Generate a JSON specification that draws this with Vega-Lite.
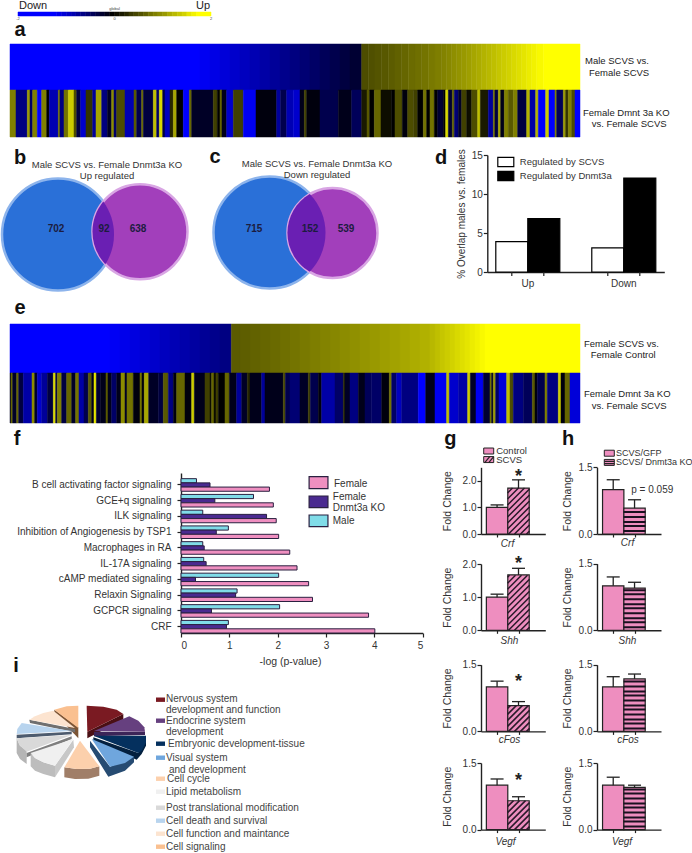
{
"$schema":"https://vega.github.io/schema/vega-lite/v6.json",
"background":"white","padding":{"left":-3,"top":0,"right":0,"bottom":0},"bounds":"flush","spacing":0,"columns":3,"align":"each",
"resolve":{"scale":{"fill":"independent","stroke":"independent","shape":"independent"}},
"config":{"view":{"stroke":null},"font":"Liberation Sans","concat":{"spacing":0},
"axis":{"grid":false,"domainColor":"#222","tickColor":"#222","labelColor":"#333","titleColor":"#333","labelFont":"Liberation Sans","titleFont":"Liberation Sans","titleFontWeight":"normal","labelFontSize":10,"titleFontSize":10.5,"domainWidth":1.4,"tickWidth":1.2,"tickSize":4,"labelPadding":1,"labelOverlap":false}},
"datasets":{
"blank":[],
"aTop":[{"s":0,"e":570,"v":-2},{"s":570,"e":600,"v":-1.9},{"s":600,"e":630,"v":-1.8},{"s":630,"e":660,"v":-1.7},{"s":660,"e":690,"v":-1.6},{"s":690,"e":720,"v":-1.5},{"s":720,"e":750,"v":-1.4},{"s":750,"e":780,"v":-1.3},{"s":780,"e":810,"v":-1.2},{"s":810,"e":840,"v":-1.1},{"s":840,"e":870,"v":-1},{"s":870,"e":900,"v":-0.9},{"s":900,"e":930,"v":-0.8},{"s":930,"e":960,"v":-0.7},{"s":960,"e":990,"v":-0.6},{"s":990,"e":1020,"v":-0.5},{"s":1020,"e":1055,"v":-0.4},{"s":1055,"e":1075,"v":0.6},{"s":1075,"e":1095,"v":0.63},{"s":1095,"e":1115,"v":0.66},{"s":1115,"e":1135,"v":0.69},{"s":1135,"e":1155,"v":0.72},{"s":1155,"e":1175,"v":0.76},{"s":1175,"e":1195,"v":0.8},{"s":1195,"e":1215,"v":0.84},{"s":1215,"e":1235,"v":0.87},{"s":1235,"e":1255,"v":0.91},{"s":1255,"e":1275,"v":0.95},{"s":1275,"e":1295,"v":0.99},{"s":1295,"e":1310,"v":1.03},{"s":1310,"e":1325,"v":1.07},{"s":1325,"e":1340,"v":1.12},{"s":1340,"e":1355,"v":1.16},{"s":1355,"e":1370,"v":1.2},{"s":1370,"e":1385,"v":1.25},{"s":1385,"e":1400,"v":1.3},{"s":1400,"e":1415,"v":1.35},{"s":1415,"e":1430,"v":1.4},{"s":1430,"e":1445,"v":1.45},{"s":1445,"e":1460,"v":1.5},{"s":1460,"e":1475,"v":1.55},{"s":1475,"e":1490,"v":1.6},{"s":1490,"e":1505,"v":1.65},{"s":1505,"e":1520,"v":1.7},{"s":1520,"e":1535,"v":1.75},{"s":1535,"e":1550,"v":1.8},{"s":1550,"e":1565,"v":1.85},{"s":1565,"e":1580,"v":1.9},{"s":1580,"e":1600,"v":1.95},{"s":1600,"e":1710,"v":2}],
"aBot":[{"s":0,"e":18,"v":1},{"s":18,"e":52,"v":-1},{"s":52,"e":60,"v":1.2},{"s":60,"e":68,"v":-0.8},{"s":68,"e":82,"v":1},{"s":82,"e":95,"v":-2},{"s":95,"e":110,"v":1},{"s":110,"e":118,"v":0},{"s":118,"e":145,"v":-1.4},{"s":145,"e":150,"v":0.9},{"s":150,"e":162,"v":-1},{"s":162,"e":175,"v":0.9},{"s":175,"e":192,"v":1.6},{"s":192,"e":200,"v":0.6},{"s":200,"e":212,"v":-0.5},{"s":212,"e":228,"v":-1.6},{"s":228,"e":248,"v":0.4},{"s":248,"e":258,"v":-1.2},{"s":258,"e":275,"v":1.3},{"s":275,"e":292,"v":-1},{"s":292,"e":305,"v":-0.3},{"s":305,"e":312,"v":1.1},{"s":312,"e":320,"v":-0.8},{"s":320,"e":345,"v":0.6},{"s":345,"e":372,"v":-1.4},{"s":372,"e":380,"v":0.7},{"s":380,"e":395,"v":-0.6},{"s":395,"e":400,"v":0.9},{"s":400,"e":430,"v":-0.5},{"s":430,"e":440,"v":1.5},{"s":440,"e":448,"v":-0.8},{"s":448,"e":458,"v":1.7},{"s":458,"e":465,"v":-0.5},{"s":465,"e":480,"v":-1.5},{"s":480,"e":490,"v":0.3},{"s":490,"e":500,"v":1.3},{"s":500,"e":520,"v":0},{"s":520,"e":538,"v":-2},{"s":538,"e":545,"v":0.8},{"s":545,"e":610,"v":-0.3},{"s":610,"e":622,"v":0.5},{"s":622,"e":630,"v":0},{"s":630,"e":636,"v":0.8},{"s":636,"e":650,"v":-0.2},{"s":650,"e":670,"v":-1.6},{"s":670,"e":700,"v":0.5},{"s":700,"e":738,"v":-1.9},{"s":738,"e":800,"v":-0.1},{"s":800,"e":812,"v":-1.2},{"s":812,"e":830,"v":-0.6},{"s":830,"e":850,"v":-1.4},{"s":850,"e":870,"v":-1.6},{"s":870,"e":883,"v":-0.2},{"s":883,"e":890,"v":0.5},{"s":890,"e":930,"v":-0.1},{"s":930,"e":985,"v":-0.6},{"s":985,"e":1025,"v":-0.2},{"s":1025,"e":1055,"v":-0.7},{"s":1055,"e":1071,"v":0.2},{"s":1071,"e":1079,"v":0.7},{"s":1079,"e":1093,"v":0},{"s":1093,"e":1113,"v":0.8},{"s":1113,"e":1145,"v":0.1},{"s":1145,"e":1155,"v":0},{"s":1155,"e":1177,"v":0.6},{"s":1177,"e":1193,"v":-0.1},{"s":1193,"e":1211,"v":0.6},{"s":1211,"e":1223,"v":0.5},{"s":1223,"e":1240,"v":0},{"s":1240,"e":1250,"v":0.9},{"s":1250,"e":1260,"v":0},{"s":1260,"e":1273,"v":0.9},{"s":1273,"e":1283,"v":0},{"s":1283,"e":1300,"v":-0.4},{"s":1300,"e":1307,"v":0},{"s":1307,"e":1315,"v":1.7},{"s":1315,"e":1327,"v":-0.4},{"s":1327,"e":1333,"v":0.8},{"s":1333,"e":1345,"v":-0.9},{"s":1345,"e":1355,"v":-0.3},{"s":1355,"e":1370,"v":0.5},{"s":1370,"e":1385,"v":0.1},{"s":1385,"e":1403,"v":0.6},{"s":1403,"e":1411,"v":1.5},{"s":1411,"e":1435,"v":0.2},{"s":1435,"e":1450,"v":-1.2},{"s":1450,"e":1455,"v":0.9},{"s":1455,"e":1465,"v":-0.5},{"s":1465,"e":1472,"v":1.3},{"s":1472,"e":1483,"v":-0.2},{"s":1483,"e":1495,"v":1},{"s":1495,"e":1510,"v":0.7},{"s":1510,"e":1523,"v":1},{"s":1523,"e":1550,"v":-0.5},{"s":1550,"e":1560,"v":1.4},{"s":1560,"e":1577,"v":-1.3},{"s":1577,"e":1585,"v":1.4},{"s":1585,"e":1607,"v":-2},{"s":1607,"e":1617,"v":1.6},{"s":1617,"e":1635,"v":-2},{"s":1635,"e":1640,"v":1},{"s":1640,"e":1660,"v":-0.7},{"s":1660,"e":1667,"v":1.2},{"s":1667,"e":1675,"v":0.4},{"s":1675,"e":1685,"v":1},{"s":1685,"e":1695,"v":0.6},{"s":1695,"e":1710,"v":-2}],
"eTop":[{"s":0,"e":300,"v":-2},{"s":300,"e":330,"v":-1.92},{"s":330,"e":360,"v":-1.84},{"s":360,"e":390,"v":-1.76},{"s":390,"e":420,"v":-1.68},{"s":420,"e":450,"v":-1.6},{"s":450,"e":480,"v":-1.5},{"s":480,"e":510,"v":-1.42},{"s":510,"e":540,"v":-1.34},{"s":540,"e":570,"v":-1.26},{"s":570,"e":600,"v":-1.18},{"s":600,"e":630,"v":-1.1},{"s":630,"e":664,"v":-1.02},{"s":664,"e":690,"v":0.71},{"s":690,"e":720,"v":0.74},{"s":720,"e":750,"v":0.77},{"s":750,"e":780,"v":0.8},{"s":780,"e":810,"v":0.83},{"s":810,"e":840,"v":0.87},{"s":840,"e":870,"v":0.91},{"s":870,"e":900,"v":0.95},{"s":900,"e":930,"v":0.99},{"s":930,"e":960,"v":1.03},{"s":960,"e":990,"v":1.06},{"s":990,"e":1020,"v":1.1},{"s":1020,"e":1050,"v":1.13},{"s":1050,"e":1080,"v":1.17},{"s":1080,"e":1110,"v":1.2},{"s":1110,"e":1140,"v":1.24},{"s":1140,"e":1170,"v":1.27},{"s":1170,"e":1200,"v":1.31},{"s":1200,"e":1230,"v":1.35},{"s":1230,"e":1260,"v":1.39},{"s":1260,"e":1275,"v":1.44},{"s":1275,"e":1290,"v":1.5},{"s":1290,"e":1305,"v":1.55},{"s":1305,"e":1320,"v":1.6},{"s":1320,"e":1335,"v":1.65},{"s":1335,"e":1350,"v":1.7},{"s":1350,"e":1365,"v":1.75},{"s":1365,"e":1380,"v":1.8},{"s":1380,"e":1395,"v":1.85},{"s":1395,"e":1410,"v":1.9},{"s":1410,"e":1425,"v":1.95},{"s":1425,"e":1710,"v":2}],
"eBot":[{"s":0,"e":3,"v":-0.3},{"s":3,"e":8,"v":0.8},{"s":8,"e":20,"v":-0.3},{"s":20,"e":26,"v":0.8},{"s":26,"e":40,"v":-0.5},{"s":40,"e":66,"v":-1.3},{"s":66,"e":74,"v":1.1},{"s":74,"e":82,"v":-0.3},{"s":82,"e":95,"v":-1.6},{"s":95,"e":112,"v":-1.2},{"s":112,"e":130,"v":-0.5},{"s":130,"e":137,"v":1.7},{"s":137,"e":142,"v":-0.5},{"s":142,"e":155,"v":1},{"s":155,"e":170,"v":-0.5},{"s":170,"e":185,"v":0.8},{"s":185,"e":197,"v":-0.3},{"s":197,"e":207,"v":0.9},{"s":207,"e":222,"v":-1.3},{"s":222,"e":235,"v":-0.6},{"s":235,"e":245,"v":0.7},{"s":245,"e":252,"v":-0.2},{"s":252,"e":259,"v":1.8},{"s":259,"e":272,"v":-0.4},{"s":272,"e":288,"v":-0.2},{"s":288,"e":294,"v":0.7},{"s":294,"e":305,"v":-0.2},{"s":305,"e":320,"v":-0.8},{"s":320,"e":333,"v":-0.2},{"s":333,"e":345,"v":1.1},{"s":345,"e":351,"v":-0.3},{"s":351,"e":370,"v":0.9},{"s":370,"e":390,"v":-0.1},{"s":390,"e":396,"v":0.9},{"s":396,"e":403,"v":-0.1},{"s":403,"e":416,"v":1.3},{"s":416,"e":445,"v":-0.3},{"s":445,"e":460,"v":-0.5},{"s":460,"e":475,"v":0.7},{"s":475,"e":490,"v":-1},{"s":490,"e":500,"v":-0.1},{"s":500,"e":525,"v":0.8},{"s":525,"e":545,"v":-0.1},{"s":545,"e":553,"v":1.6},{"s":553,"e":585,"v":-0.2},{"s":585,"e":600,"v":0.5},{"s":600,"e":605,"v":0.1},{"s":605,"e":612,"v":0.8},{"s":612,"e":618,"v":0.1},{"s":618,"e":625,"v":0.5},{"s":625,"e":645,"v":0},{"s":645,"e":658,"v":0.8},{"s":658,"e":680,"v":-0.2},{"s":680,"e":695,"v":-1.2},{"s":695,"e":712,"v":-0.3},{"s":712,"e":720,"v":0.3},{"s":720,"e":755,"v":-0.2},{"s":755,"e":765,"v":-1.2},{"s":765,"e":820,"v":-0.2},{"s":820,"e":826,"v":0.6},{"s":826,"e":840,"v":-0.6},{"s":840,"e":870,"v":-0.9},{"s":870,"e":895,"v":-0.3},{"s":895,"e":901,"v":0.5},{"s":901,"e":925,"v":-0.6},{"s":925,"e":935,"v":-0.1},{"s":935,"e":975,"v":-1.3},{"s":975,"e":1000,"v":-0.8},{"s":1000,"e":1005,"v":0.3},{"s":1005,"e":1020,"v":-0.3},{"s":1020,"e":1045,"v":-1},{"s":1045,"e":1065,"v":-0.2},{"s":1065,"e":1085,"v":-0.7},{"s":1085,"e":1115,"v":-0.8},{"s":1115,"e":1138,"v":-0.1},{"s":1138,"e":1145,"v":0.9},{"s":1145,"e":1160,"v":-0.8},{"s":1160,"e":1175,"v":-1.5},{"s":1175,"e":1225,"v":-1},{"s":1225,"e":1247,"v":-2},{"s":1247,"e":1275,"v":-0.2},{"s":1275,"e":1310,"v":-1.9},{"s":1310,"e":1318,"v":1.5},{"s":1318,"e":1345,"v":-1.6},{"s":1345,"e":1373,"v":-1.3},{"s":1373,"e":1381,"v":1.6},{"s":1381,"e":1398,"v":-0.3},{"s":1398,"e":1420,"v":-1.9},{"s":1420,"e":1440,"v":-0.4},{"s":1440,"e":1445,"v":0.9},{"s":1445,"e":1450,"v":-0.3},{"s":1450,"e":1457,"v":1.2},{"s":1457,"e":1467,"v":-0.8},{"s":1467,"e":1490,"v":-1.7},{"s":1490,"e":1500,"v":1.5},{"s":1500,"e":1510,"v":0.6},{"s":1510,"e":1540,"v":-1},{"s":1540,"e":1567,"v":-0.7},{"s":1567,"e":1575,"v":0.7},{"s":1575,"e":1582,"v":-0.1},{"s":1582,"e":1605,"v":-0.6},{"s":1605,"e":1612,"v":1},{"s":1612,"e":1645,"v":-1},{"s":1645,"e":1653,"v":1.6},{"s":1653,"e":1665,"v":-0.1},{"s":1665,"e":1680,"v":0.8},{"s":1680,"e":1710,"v":-1.7}]
},
"concat":[
{"width":480.7,"height":22,
 "layer":[
 {"data":{"values":[{"a":-2,"b":-1.2,"v":-2},{"a":-1.2,"b":-1.1,"v":-1.85},{"a":-1.1,"b":-1,"v":-1.7},{"a":-1,"b":-0.9,"v":-1.55},{"a":-0.9,"b":-0.8,"v":-1.4},{"a":-0.8,"b":-0.7,"v":-1.2},{"a":-0.7,"b":-0.6,"v":-1.05},{"a":-0.6,"b":-0.5,"v":-0.9},{"a":-0.5,"b":-0.4,"v":-0.7},{"a":-0.4,"b":-0.3,"v":-0.55},{"a":-0.3,"b":-0.2,"v":-0.35},{"a":-0.2,"b":-0.1,"v":-0.2},{"a":-0.1,"b":0,"v":0},{"a":0,"b":0.1,"v":0.1},{"a":0.1,"b":0.2,"v":0.2},{"a":0.2,"b":0.3,"v":0.3},{"a":0.3,"b":0.4,"v":0.45},{"a":0.4,"b":0.5,"v":0.55},{"a":0.5,"b":0.6,"v":0.65},{"a":0.6,"b":0.7,"v":0.75},{"a":0.7,"b":0.8,"v":0.9},{"a":0.8,"b":0.9,"v":1},{"a":0.9,"b":1,"v":1.1},{"a":1,"b":1.1,"v":1.2},{"a":1.1,"b":1.2,"v":1.35},{"a":1.2,"b":1.3,"v":1.45},{"a":1.3,"b":1.4,"v":1.55},{"a":1.4,"b":1.5,"v":1.65},{"a":1.5,"b":1.6,"v":1.8},{"a":1.6,"b":1.7,"v":1.9},{"a":1.7,"b":2,"v":2}]},
  "mark":{"type":"rect","strokeWidth":0.5},
  "encoding":{"x":{"field":"a","type":"quantitative","scale":{"domain":[-2,2],"range":[18,211]},"axis":null},"x2":{"field":"b"},
  "y":{"datum":12,"type":"quantitative","scale":{"domain":[0,22],"range":[0,22]},"axis":null},"y2":{"datum":16},
  "fill":{"field":"v","type":"quantitative","scale":{"domain":[-2,0,2],"range":["#0000ff","#000000","#ffff00"],"interpolate":"rgb"},"legend":null},
  "stroke":{"field":"v","type":"quantitative","scale":{"domain":[-2,0,2],"range":["#0000ff","#000000","#ffff00"],"interpolate":"rgb"},"legend":null}}},
 {"data":{"values":[{"x":-1.98,"y":6,"label":"Down"}]},"mark":{"type":"text","align":"left","fontSize":11,"color":"#222"},"encoding":{"x":{"field":"x","type":"quantitative","scale":{"domain":[-2,2],"range":[18,211]},"axis":null},"y":{"field":"y","type":"quantitative","scale":{"domain":[0,22],"range":[0,22]},"axis":null},"text":{"field":"label"}}},
 {"data":{"values":[{"x":1.98,"y":6,"label":"Up"}]},"mark":{"type":"text","align":"right","fontSize":11,"color":"#222"},"encoding":{"x":{"field":"x","type":"quantitative","scale":{"domain":[-2,2],"range":[18,211]},"axis":null},"y":{"field":"y","type":"quantitative","scale":{"domain":[0,22],"range":[0,22]},"axis":null},"text":{"field":"label"}}},
 {"data":{"values":[{"x":0,"y":9,"label":"global"},{"x":-2,"y":19,"label":"-2"},{"x":0,"y":19,"label":"0"},{"x":2,"y":19,"label":"2"}]},"mark":{"type":"text","align":"center","fontSize":4,"color":"#444"},"encoding":{"x":{"field":"x","type":"quantitative","scale":{"domain":[-2,2],"range":[18,211]},"axis":null},"y":{"field":"y","type":"quantitative","scale":{"domain":[0,22],"range":[0,22]},"axis":null},"text":{"field":"label"}}}
 ]},
{"width":0,"height":0,"data":{"name":"blank"},"mark":"rect","encoding":{}},
{"width":0,"height":0,"data":{"name":"blank"},"mark":"rect","encoding":{}},
{"width":480.7,"height":118,
 "encoding":{"x":{"field":"s","type":"quantitative","scale":{"domain":[-30,2046],"range":[0,692]},"axis":null},
  "fill":{"field":"v","type":"quantitative","scale":{"domain":[-2,0,2],"range":["#0000ff","#000000","#ffff00"],"interpolate":"rgb"},"legend":null},
  "stroke":{"field":"v","type":"quantitative","scale":{"domain":[-2,0,2],"range":["#0000ff","#000000","#ffff00"],"interpolate":"rgb"},"legend":null}},
 "layer":[
 {"data":{"name":"aTop"},"mark":{"type":"rect","strokeWidth":0.5},"encoding":{"x2":{"field":"e"},"y":{"datum":22,"type":"quantitative","scale":{"domain":[0,118],"range":[0,118]},"axis":null},"y2":{"datum":68}}},
 {"data":{"name":"aBot"},"mark":{"type":"rect","strokeWidth":0.5},"encoding":{"x2":{"field":"e"},"y":{"datum":68,"type":"quantitative","scale":{"domain":[0,118],"range":[0,118]},"axis":null},"y2":{"datum":115}}},
 {"data":{"values":[{"x":1725,"y":39,"label":"Male  SCVS vs."},{"x":1737,"y":51,"label":"Female SCVS"},{"x":1719,"y":91,"label":"Female Dmnt 3a KO"},{"x":1745,"y":102,"label":"vs. Female SCVS"}]},"mark":{"type":"text","align":"left","fontSize":9.5,"color":"#222"},"encoding":{"x":{"field":"x","type":"quantitative","scale":{"domain":[-30,2046],"range":[0,692]},"axis":null},"y":{"field":"y","type":"quantitative","scale":{"domain":[0,118],"range":[0,118]},"axis":null},"text":{"field":"label"},"fill":{"value":"#222"},"stroke":{"value":null}}},
 {"data":{"values":[{"x":30,"y":8,"label":"a"}]},"mark":{"type":"text","align":"center","fontSize":20,"fontWeight":"bold"},"encoding":{"x":{"field":"x","type":"quantitative","scale":{"domain":[-30,2046],"range":[0,692]},"axis":null},"y":{"field":"y","type":"quantitative","scale":{"domain":[0,118],"range":[0,118]},"axis":null},"text":{"field":"label"},"fill":{"value":"#111"},"stroke":{"value":null}}}
 ]},
{"width":0,"height":0,"data":{"name":"blank"},"mark":"rect","encoding":{}},
{"width":0,"height":0,"data":{"name":"blank"},"mark":"rect","encoding":{}},
 {"width":480.7,"height":160,
  "layer":[
  {"data":{"values":[{"set":"b male","x":58,"y":94.5},{"set":"c male","x":269.5,"y":92.5}]},"mark":{"type":"point","shape":"circle","filled":true,"size":12544,"fill":"#2a70d8","stroke":"#8db4ec","strokeWidth":2.5,"opacity":1},"encoding":{"x":{"field":"x","type":"quantitative","scale":{"domain":[0,487],"range":[0,487]},"axis":null},"y":{"field":"y","type":"quantitative","scale":{"domain":[0,160],"range":[0,160]},"axis":null}}},
  {"data":{"values":[{"set":"b female","x":140,"y":91.7}]},"mark":{"type":"point","shape":"circle","filled":true,"size":9025,"fill":"#a23fbb","stroke":"#d9a6e4","strokeWidth":2.5,"opacity":1},"encoding":{"x":{"field":"x","type":"quantitative","scale":{"domain":[0,487],"range":[0,487]},"axis":null},"y":{"field":"y","type":"quantitative","scale":{"domain":[0,160],"range":[0,160]},"axis":null}}},
  {"data":{"values":[{"set":"c female","x":332.5,"y":93}]},"mark":{"type":"point","shape":"circle","filled":true,"size":8100,"fill":"#a23fbb","stroke":"#d9a6e4","strokeWidth":2.5,"opacity":1},"encoding":{"x":{"field":"x","type":"quantitative","scale":{"domain":[0,487],"range":[0,487]},"axis":null},"y":{"field":"y","type":"quantitative","scale":{"domain":[0,160],"range":[0,160]},"axis":null}}},
  {"data":{"values":[{"set":"b overlap","x":110,"y":93}]},"mark":{"type":"point","shape":"M-6.7 -31.5A56 56 0 0 1 -4.6 31.3A47.5 47.5 0 0 1 -6.7 -31.5Z","filled":true,"size":4,"fill":"#6a1fb3","strokeWidth":0,"opacity":1},"encoding":{"x":{"field":"x","type":"quantitative","scale":{"domain":[0,487],"range":[0,487]},"axis":null},"y":{"field":"y","type":"quantitative","scale":{"domain":[0,160],"range":[0,160]},"axis":null}}},
  {"data":{"values":[{"set":"c overlap","x":320,"y":93}]},"mark":{"type":"point","shape":"M-10.2 -39.1A56 56 0 0 1 -10.2 38.7A45 45 0 0 1 -10.2 -39.1Z","filled":true,"size":4,"fill":"#6a1fb3","strokeWidth":0,"opacity":1},"encoding":{"x":{"field":"x","type":"quantitative","scale":{"domain":[0,487],"range":[0,487]},"axis":null},"y":{"field":"y","type":"quantitative","scale":{"domain":[0,160],"range":[0,160]},"axis":null}}},
  {"data":{"values":[{"x":56,"y":89,"label":"702"},{"x":104,"y":89,"label":"92"},{"x":138,"y":89,"label":"638"},{"x":254,"y":89,"label":"715"},{"x":310,"y":89,"label":"152"},{"x":346,"y":89,"label":"539"}]},"mark":{"type":"text","fontSize":10,"fontWeight":"bold","color":"#1c1c40"},"encoding":{"x":{"field":"x","type":"quantitative","scale":{"domain":[0,487],"range":[0,487]},"axis":null},"y":{"field":"y","type":"quantitative","scale":{"domain":[0,160],"range":[0,160]},"axis":null},"text":{"field":"label"}}},
  {"data":{"values":[{"x":107,"y":25,"label":"Male SCVS vs. Female Dnmt3a KO"},{"x":107,"y":36,"label":"Up regulated"},{"x":317,"y":24,"label":"Male SCVS vs. Female Dnmt3a KO"},{"x":317,"y":35,"label":"Down regulated"}]},"mark":{"type":"text","fontSize":9.5,"color":"#333"},"encoding":{"x":{"field":"x","type":"quantitative","scale":{"domain":[0,487],"range":[0,487]},"axis":null},"y":{"field":"y","type":"quantitative","scale":{"domain":[0,160],"range":[0,160]},"axis":null},"text":{"field":"label"}}},
  {"data":{"values":[{"x":20,"y":18,"label":"b"},{"x":215,"y":17,"label":"c"},{"x":441,"y":18,"label":"d"}]},"mark":{"type":"text","fontSize":20,"fontWeight":"bold","color":"#111"},"encoding":{"x":{"field":"x","type":"quantitative","scale":{"domain":[0,487],"range":[0,487]},"axis":null},"y":{"field":"y","type":"quantitative","scale":{"domain":[0,160],"range":[0,160]},"axis":null},"text":{"field":"label"}}}
  ]},
 {"width":116,"height":132,
  "data":{"values":[{"dir":"Up","by":"Regulated by SCVS","pct":3.9},{"dir":"Up","by":"Regulated by Dnmt3a","pct":6.85},{"dir":"Down","by":"Regulated by SCVS","pct":3.1},{"dir":"Down","by":"Regulated by Dnmt3a","pct":12.05}]},
  "encoding":{"x":{"field":"dir","type":"nominal","scale":{"domain":["Up","Down"],"range":[6.3,183.3],"paddingInner":0.333,"paddingOuter":0.0885},"axis":{"title":null,"labelAngle":0,"ticks":false,"labelPadding":6,"labelFontSize":10}},
   "xOffset":{"field":"by","type":"nominal","scale":{"domain":["Regulated by SCVS","Regulated by Dnmt3a"],"paddingInner":0}}},
  "layer":[
  {"mark":{"type":"bar","stroke":"#000","strokeWidth":1.2},"encoding":{"y":{"field":"pct","type":"quantitative","scale":{"domain":[0,15],"range":[132,15],"nice":false},"axis":{"values":[0,5,10,15],"title":"% Overlap males vs. females","titleX":-21,"titleFontSize":10,"offset":-6.3}},
    "fill":{"field":"by","type":"nominal","scale":{"domain":["Regulated by SCVS","Regulated by Dnmt3a"],"range":["#ffffff","#000000"]},"legend":{"title":null,"orient":"none","legendX":15.8,"legendY":15,"symbolType":"M-1 -0.58H1V0.58H-1Z","symbolSize":256,"symbolStrokeColor":"#000","symbolStrokeWidth":1.2,"labelFontSize":9.5,"labelColor":"#333","clipHeight":14,"rowPadding":0,"labelOffset":5}}}},
  {"mark":{"type":"point","shape":"M0 0L0 4","size":4,"stroke":"#222","strokeWidth":1.2,"opacity":1},"encoding":{"y":{"datum":0,"type":"quantitative","scale":{"domain":[0,15],"range":[132,15],"nice":false}}}}
  ]},
{"width":0,"height":0,"data":{"name":"blank"},"mark":"rect","encoding":{}},
{"width":480.7,"height":130,
 "encoding":{"x":{"field":"s","type":"quantitative","scale":{"domain":[-30,2046],"range":[0,692]},"axis":null},
  "fill":{"field":"v","type":"quantitative","scale":{"domain":[-2,0,2],"range":["#0000ff","#000000","#ffff00"],"interpolate":"rgb"},"legend":null},
  "stroke":{"field":"v","type":"quantitative","scale":{"domain":[-2,0,2],"range":["#0000ff","#000000","#ffff00"],"interpolate":"rgb"},"legend":null}},
 "layer":[
 {"data":{"name":"eTop"},"mark":{"type":"rect","strokeWidth":0.5},"encoding":{"x2":{"field":"e"},"y":{"datum":24,"type":"quantitative","scale":{"domain":[0,130],"range":[0,130]},"axis":null},"y2":{"datum":73}}},
 {"data":{"name":"eBot"},"mark":{"type":"rect","strokeWidth":0.5},"encoding":{"x2":{"field":"e"},"y":{"datum":73,"type":"quantitative","scale":{"domain":[0,130],"range":[0,130]},"axis":null},"y2":{"datum":123}}},
 {"data":{"values":[{"x":1722,"y":44,"label":"Female SCVS vs."},{"x":1742,"y":55,"label":"Female Control"},{"x":1722,"y":94,"label":"Female Dmnt 3a KO"},{"x":1745,"y":106,"label":"vs. Female SCVS"}]},"mark":{"type":"text","align":"left","fontSize":9.5},"encoding":{"x":{"field":"x","type":"quantitative","scale":{"domain":[-30,2046],"range":[0,692]},"axis":null},"y":{"field":"y","type":"quantitative","scale":{"domain":[0,130],"range":[0,130]},"axis":null},"text":{"field":"label"},"fill":{"value":"#222"},"stroke":{"value":null}}},
 {"data":{"values":[{"x":30,"y":8,"label":"e"}]},"mark":{"type":"text","align":"center","fontSize":20,"fontWeight":"bold"},"encoding":{"x":{"field":"x","type":"quantitative","scale":{"domain":[-30,2046],"range":[0,692]},"axis":null},"y":{"field":"y","type":"quantitative","scale":{"domain":[0,130],"range":[0,130]},"axis":null},"text":{"field":"label"},"fill":{"value":"#111"},"stroke":{"value":null}}}
 ]},
{"width":0,"height":0,"data":{"name":"blank"},"mark":"rect","encoding":{}},
{"width":0,"height":0,"data":{"name":"blank"},"mark":"rect","encoding":{}},
  {"width":480.7,"height":104,
   "resolve":{"scale":{"y":"independent"}},
   "layer":[
   {"data":{"values":[
    {"p":"B cell activating factor signaling","s":"Male","v":0.32},{"p":"B cell activating factor signaling","s":"Female Dnmt3a KO","v":0.6},{"p":"B cell activating factor signaling","s":"Female","v":1.83},
    {"p":"GCE+q signaling","s":"Male","v":1.5},{"p":"GCE+q signaling","s":"Female Dnmt3a KO","v":0.7},{"p":"GCE+q signaling","s":"Female","v":1.91},
    {"p":"ILK signaling","s":"Male","v":0.45},{"p":"ILK signaling","s":"Female Dnmt3a KO","v":1.77},{"p":"ILK signaling","s":"Female","v":1.97},
    {"p":"Inhibition of Angiogenesis by TSP1","s":"Male","v":0.98},{"p":"Inhibition of Angiogenesis by TSP1","s":"Female Dnmt3a KO","v":0.73},{"p":"Inhibition of Angiogenesis by TSP1","s":"Female","v":2.02},
    {"p":"Macrophages in RA","s":"Male","v":0.45},{"p":"Macrophages in RA","s":"Female Dnmt3a KO","v":0.48},{"p":"Macrophages in RA","s":"Female","v":2.25},
    {"p":"IL-17A signaling","s":"Male","v":0.47},{"p":"IL-17A signaling","s":"Female Dnmt3a KO","v":0.52},{"p":"IL-17A signaling","s":"Female","v":2.4},
    {"p":"cAMP  mediated signaling","s":"Male","v":2.02},{"p":"cAMP  mediated signaling","s":"Female Dnmt3a KO","v":0.3},{"p":"cAMP  mediated signaling","s":"Female","v":2.64},
    {"p":"Relaxin Signaling","s":"Male","v":1.16},{"p":"Relaxin Signaling","s":"Female Dnmt3a KO","v":1.13},{"p":"Relaxin Signaling","s":"Female","v":2.72},
    {"p":"GCPCR signaling","s":"Male","v":2.04},{"p":"GCPCR signaling","s":"Female Dnmt3a KO","v":0.63},{"p":"GCPCR signaling","s":"Female","v":3.88},
    {"p":"CRF","s":"Male","v":0.98},{"p":"CRF","s":"Female Dnmt3a KO","v":0.94},{"p":"CRF","s":"Female","v":4.01}]},
    "mark":{"type":"bar","stroke":"#2a2040","strokeWidth":1},
    "encoding":{"x":{"field":"v","type":"quantitative","scale":{"domain":[0,5],"range":[181,422.7],"nice":false},"axis":{"values":[0,1,2,3,4,5],"format":"d","title":"-log (p-value)","titleX":290,"titleY":23,"labelPadding":3,"offset":99}},
     "y":{"field":"p","type":"nominal","scale":{"domain":["B cell activating factor signaling","GCE+q signaling","ILK signaling","Inhibition of Angiogenesis by TSP1","Macrophages in RA","IL-17A signaling","cAMP  mediated signaling","Relaxin Signaling","GCPCR signaling","CRF"],"range":[43,203],"paddingInner":0.2,"paddingOuter":0.18,"align":1},"axis":{"title":null,"offset":-181,"labelPadding":6,"labelFontSize":10,"labelLimit":200}},
     "yOffset":{"field":"s","type":"nominal","scale":{"domain":["Male","Female Dnmt3a KO","Female"],"paddingInner":0}},
     "fill":{"field":"s","type":"nominal","scale":{"domain":["Female","Female Dnmt3a KO","Male"],"range":["#ef8fc0","#4a2a90","#80dce8"]},"legend":null}}},
   {"data":{"values":[{"a":2.65,"b":3.04,"t":46.7,"u":58.7,"s":"Female"},{"a":2.65,"b":3.04,"t":66,"u":77.7,"s":"Female Dnmt3a KO"},{"a":2.65,"b":3.04,"t":85,"u":96.7,"s":"Male"}]},
    "mark":{"type":"rect","stroke":"#2a2040","strokeWidth":1.2},
    "encoding":{"x":{"field":"a","type":"quantitative","scale":{"domain":[0,5],"range":[181,422.7],"nice":false}},"x2":{"field":"b"},
     "y":{"field":"t","type":"quantitative","scale":{"domain":[0,203],"range":[0,203]},"axis":null},"y2":{"field":"u"},
     "fill":{"field":"s","type":"nominal","scale":{"domain":["Female","Female Dnmt3a KO","Male"],"range":["#ef8fc0","#4a2a90","#80dce8"]},"legend":null}}},
   {"data":{"values":[{"x":3.165,"y":53.7,"label":"Female"},{"x":3.14,"y":66.7,"label":"Female"},{"x":3.14,"y":78,"label":"Dnmt3a KO"},{"x":3.14,"y":91,"label":"Male"}]},
    "mark":{"type":"text","align":"left","fontSize":10,"color":"#333"},
    "encoding":{"x":{"field":"x","type":"quantitative","scale":{"domain":[0,5],"range":[181,422.7],"nice":false}},"y":{"field":"y","type":"quantitative","scale":{"domain":[0,203],"range":[0,203]},"axis":null},"text":{"field":"label"}}},
   {"data":{"values":[{"x":-3.39,"y":9,"label":"f"}]},
    "mark":{"type":"text","fontSize":20,"fontWeight":"bold","color":"#111"},
    "encoding":{"x":{"field":"x","type":"quantitative","scale":{"domain":[0,5],"range":[181,422.7],"nice":false}},"y":{"field":"y","type":"quantitative","scale":{"domain":[0,203],"range":[0,203]},"axis":null},"text":{"field":"label"}}}
   ]},
  {"width":116,"height":104,
   "data":{"values":[{"group":"Control","start":0.25,"end":1.25,"center":0.75,"mean":1,"upper":1.09},{"group":"SCVS","start":1.25,"end":2.25,"center":1.75,"mean":1.72,"upper":2.03,"star":2.14}]},
   "encoding":{"x":{"field":"center","type":"quantitative","scale":{"domain":[0,3],"range":[0,64.3],"nice":false}},"y":{"field":"mean","type":"quantitative","scale":{"domain":[0,2.5],"range":[104,37.3],"nice":false}}},
   "layer":[
   {"mark":{"type":"rect","fill":"#ee8ebf","stroke":"#222","strokeWidth":1.2},"encoding":{"x":{"field":"start","type":"quantitative","scale":{"domain":[0,3],"range":[0,64.3],"nice":false},"axis":{"values":[0.75,1.75],"labels":false,"title":"Crf","titleFontStyle":"italic","titleX":26,"titleY":9,"titleBaseline":"middle","tickSize":3,"titleFontSize":10}},"x2":{"field":"end"},"y":{"field":"mean","type":"quantitative","scale":{"domain":[0,2.5],"range":[104,37.3],"nice":false},"axis":{"values":[0,0.5,1,1.5,2,2.5],"format":".1f","labelOverlap":false,"title":"Fold Change","titleX":-29}},"y2":{"datum":0}}},
   {"mark":{"type":"rule","stroke":"#222","strokeWidth":1.3},"encoding":{"y2":{"field":"upper"}}},
   {"mark":{"type":"point","shape":"M-6.5 0L6.5 0","size":4,"stroke":"#222","strokeWidth":1.3,"opacity":1},"encoding":{"y":{"field":"upper","type":"quantitative","scale":{"domain":[0,2.5],"range":[104,37.3],"nice":false}}}},
   {"transform":[{"filter":"datum.group=='SCVS'"}],"mark":{"type":"point","shape":"M8 0L11 -3M2 0L11 -9M-4 0L11 -15M-10 0L11 -21M-11 -5L11 -27M-11 -11L11 -33M-11 -17L11 -39M-11 -23L11 -45M-11 -29L6 -46M-11 -35L0 -46M-11 -41L-6 -46","size":4,"stroke":"#2a1a2a","strokeWidth":1.5,"opacity":1},"encoding":{"y":{"datum":0,"type":"quantitative","scale":{"domain":[0,2.5],"range":[104,37.3],"nice":false}}}},
   {"transform":[{"filter":"datum.star"}],"mark":{"type":"text","text":"*","fontSize":18,"fontWeight":"bold","color":"#222"},"encoding":{"y":{"field":"star","type":"quantitative","scale":{"domain":[0,2.5],"range":[104,37.3],"nice":false}}}},
   {"data":{"values":[{"group":"Control","x":0.36,"y":3.11},{"group":"SCVS","x":0.36,"y":2.79}]},"mark":{"type":"point","shape":"M-5 -3H5V3H-5Z","filled":true,"size":4,"fill":"#ee8ebf","stroke":"#222","strokeWidth":1,"opacity":1},"encoding":{"x":{"field":"x","type":"quantitative","scale":{"domain":[0,3],"range":[0,64.3],"nice":false}},"y":{"field":"y","type":"quantitative","scale":{"domain":[0,2.5],"range":[104,37.3],"nice":false}}}},
   {"data":{"values":[{"group":"SCVS","x":0.36,"y":2.79}]},"mark":{"type":"point","shape":"M-4 3L1 -3M0 3L5 -3","size":4,"stroke":"#222","strokeWidth":1.2,"opacity":1},"encoding":{"x":{"field":"x","type":"quantitative","scale":{"domain":[0,3],"range":[0,64.3],"nice":false}},"y":{"field":"y","type":"quantitative","scale":{"domain":[0,2.5],"range":[104,37.3],"nice":false}}}},
   {"data":{"values":[{"group":"Control","x":0.36,"y":3.11},{"group":"SCVS","x":0.36,"y":2.79}]},"mark":{"type":"text","align":"left","dx":7.5,"fontSize":9.5,"color":"#333"},"encoding":{"x":{"field":"x","type":"quantitative","scale":{"domain":[0,3],"range":[0,64.3],"nice":false}},"y":{"field":"y","type":"quantitative","scale":{"domain":[0,2.5],"range":[104,37.3],"nice":false}},"text":{"field":"group"}}},
   {"data":{"values":[{"x":-1.43,"y":3.56,"label":"g"}]},"mark":{"type":"text","fontSize":20,"fontWeight":"bold","color":"#111"},"encoding":{"x":{"field":"x","type":"quantitative","scale":{"domain":[0,3],"range":[0,64.3],"nice":false}},"y":{"field":"y","type":"quantitative","scale":{"domain":[0,2.5],"range":[104,37.3],"nice":false}},"text":{"field":"label"}}}
   ]},
  {"width":95.3,"height":104,
   "data":{"values":[{"group":"SCVS/GFP","start":0.26,"end":1.26,"center":0.76,"mean":1,"upper":1.22},{"group":"SCVS/ Dnmt3a KO","start":1.26,"end":2.26,"center":1.76,"mean":0.58,"upper":0.77}]},
   "encoding":{"x":{"field":"center","type":"quantitative","scale":{"domain":[0,3],"range":[0,64],"nice":false}},"y":{"field":"mean","type":"quantitative","scale":{"domain":[0,1.5],"range":[104,37.3],"nice":false}}},
   "layer":[
   {"mark":{"type":"rect","fill":"#ee8ebf","stroke":"#222","strokeWidth":1.2},"encoding":{"x":{"field":"start","type":"quantitative","scale":{"domain":[0,3],"range":[0,64],"nice":false},"axis":{"values":[0.76,1.76],"labels":false,"title":"Crf","titleFontStyle":"italic","titleX":30,"titleY":8,"titleBaseline":"middle","tickSize":3,"titleFontSize":10}},"x2":{"field":"end"},"y":{"field":"mean","type":"quantitative","scale":{"domain":[0,1.5],"range":[104,37.3],"nice":false},"axis":{"values":[0,0.5,1,1.5],"format":".1f","labelOverlap":false,"title":"Fold Change","titleX":-25}},"y2":{"datum":0}}},
   {"mark":{"type":"rule","stroke":"#222","strokeWidth":1.3},"encoding":{"y2":{"field":"upper"}}},
   {"mark":{"type":"point","shape":"M-6.5 0L6.5 0","size":4,"stroke":"#222","strokeWidth":1.3,"opacity":1},"encoding":{"y":{"field":"upper","type":"quantitative","scale":{"domain":[0,1.5],"range":[104,37.3],"nice":false}}}},
   {"transform":[{"filter":"datum.group!='SCVS/GFP'"}],"mark":{"type":"point","shape":"M-11 -3L11 -3M-11 -8L11 -8M-11 -12L11 -12M-11 -17L11 -17M-11 -22L11 -22","size":4,"stroke":"#1a1020","strokeWidth":2,"opacity":1},"encoding":{"y":{"datum":0,"type":"quantitative","scale":{"domain":[0,1.5],"range":[104,37.3],"nice":false}}}},
   {"data":{"values":[{"group":"SCVS/GFP","x":0.577,"y":1.817},{"group":"SCVS/ Dnmt3a KO","x":0.577,"y":1.61}]},"mark":{"type":"point","shape":"M-5 -3H5V3H-5Z","filled":true,"size":4,"fill":"#ee8ebf","stroke":"#222","strokeWidth":1,"opacity":1},"encoding":{"x":{"field":"x","type":"quantitative","scale":{"domain":[0,3],"range":[0,64],"nice":false}},"y":{"field":"y","type":"quantitative","scale":{"domain":[0,1.5],"range":[104,37.3],"nice":false}}}},
   {"data":{"values":[{"group":"SCVS/ Dnmt3a KO","x":0.577,"y":1.61}]},"mark":{"type":"point","shape":"M-5 -1L5 -1M-5 1.2L5 1.2","size":4,"stroke":"#222","strokeWidth":1.2,"opacity":1},"encoding":{"x":{"field":"x","type":"quantitative","scale":{"domain":[0,3],"range":[0,64],"nice":false}},"y":{"field":"y","type":"quantitative","scale":{"domain":[0,1.5],"range":[104,37.3],"nice":false}}}},
   {"data":{"values":[{"group":"SCVS/GFP","x":0.577,"y":1.817},{"group":"SCVS/ Dnmt3a KO","x":0.577,"y":1.61}]},"mark":{"type":"text","align":"left","dx":6.7,"fontSize":9,"color":"#333"},"encoding":{"x":{"field":"x","type":"quantitative","scale":{"domain":[0,3],"range":[0,64],"nice":false}},"y":{"field":"y","type":"quantitative","scale":{"domain":[0,1.5],"range":[104,37.3],"nice":false}},"text":{"field":"group"}}},
   {"data":{"values":[{"x":2.59,"y":0.99,"label":"p = 0.059"}]},"mark":{"type":"text","fontSize":10,"color":"#333"},"encoding":{"x":{"field":"x","type":"quantitative","scale":{"domain":[0,3],"range":[0,64],"nice":false}},"y":{"field":"y","type":"quantitative","scale":{"domain":[0,1.5],"range":[104,37.3],"nice":false}},"text":{"field":"label"}}},
   {"data":{"values":[{"x":-1.35,"y":2.14,"label":"h"}]},"mark":{"type":"text","fontSize":20,"fontWeight":"bold","color":"#111"},"encoding":{"x":{"field":"x","type":"quantitative","scale":{"domain":[0,3],"range":[0,64],"nice":false}},"y":{"field":"y","type":"quantitative","scale":{"domain":[0,1.5],"range":[104,37.3],"nice":false}},"text":{"field":"label"}}}
   ]},
{"width":480.7,"height":0,"data":{"name":"blank"},"mark":"rect","encoding":{}},
  {"width":116,"height":96.3,
   "data":{"values":[{"group":"Control","start":0.25,"end":1.25,"center":0.75,"mean":1,"upper":1.09},{"group":"SCVS","start":1.25,"end":2.25,"center":1.75,"mean":1.67,"upper":1.87,"star":2}]},
   "encoding":{"x":{"field":"center","type":"quantitative","scale":{"domain":[0,3],"range":[0,64.3],"nice":false}},"y":{"field":"mean","type":"quantitative","scale":{"domain":[0,2],"range":[96.3,30],"nice":false}}},
   "layer":[
   {"mark":{"type":"rect","fill":"#ee8ebf","stroke":"#222","strokeWidth":1.2},"encoding":{"x":{"field":"start","type":"quantitative","scale":{"domain":[0,3],"range":[0,64.3],"nice":false},"axis":{"values":[0.75,1.75],"labels":false,"title":"Shh","titleFontStyle":"italic","titleX":28,"titleY":10,"titleBaseline":"middle","tickSize":3,"titleFontSize":10}},"x2":{"field":"end"},"y":{"field":"mean","type":"quantitative","scale":{"domain":[0,2],"range":[96.3,30],"nice":false},"axis":{"values":[0,0.5,1,1.5,2],"format":".1f","labelOverlap":false,"title":"Fold Change","titleX":-29}},"y2":{"datum":0}}},
   {"mark":{"type":"rule","stroke":"#222","strokeWidth":1.3},"encoding":{"y2":{"field":"upper"}}},
   {"mark":{"type":"point","shape":"M-6.5 0L6.5 0","size":4,"stroke":"#222","strokeWidth":1.3,"opacity":1},"encoding":{"y":{"field":"upper","type":"quantitative","scale":{"domain":[0,2],"range":[96.3,30],"nice":false}}}},
   {"transform":[{"filter":"datum.group=='SCVS'"}],"mark":{"type":"point","shape":"M8 0L11 -3M2 0L11 -9M-4 0L11 -15M-10 0L11 -21M-11 -5L11 -27M-11 -11L11 -33M-11 -17L11 -39M-11 -23L11 -45M-11 -29L11 -51M-11 -35L9 -55M-11 -41L3 -55M-11 -47L-3 -55M-11 -53L-9 -55","size":4,"stroke":"#2a1a2a","strokeWidth":1.5,"opacity":1},"encoding":{"y":{"datum":0,"type":"quantitative","scale":{"domain":[0,2],"range":[96.3,30],"nice":false}}}},
   {"transform":[{"filter":"datum.star"}],"mark":{"type":"text","text":"*","fontSize":18,"fontWeight":"bold","color":"#222"},"encoding":{"y":{"field":"star","type":"quantitative","scale":{"domain":[0,2],"range":[96.3,30],"nice":false}}}}
   ]},
  {"width":95.3,"height":96.3,
   "data":{"values":[{"group":"SCVS/GFP","start":0.26,"end":1.26,"center":0.76,"mean":1,"upper":1.2},{"group":"SCVS/ Dnmt3a KO","start":1.26,"end":2.26,"center":1.76,"mean":0.95,"upper":1.08}]},
   "encoding":{"x":{"field":"center","type":"quantitative","scale":{"domain":[0,3],"range":[0,64],"nice":false}},"y":{"field":"mean","type":"quantitative","scale":{"domain":[0,1.5],"range":[96.3,29.6],"nice":false}}},
   "layer":[
   {"mark":{"type":"rect","fill":"#ee8ebf","stroke":"#222","strokeWidth":1.2},"encoding":{"x":{"field":"start","type":"quantitative","scale":{"domain":[0,3],"range":[0,64],"nice":false},"axis":{"values":[0.76,1.76],"labels":false,"title":"Shh","titleFontStyle":"italic","titleX":30,"titleY":10,"titleBaseline":"middle","tickSize":3,"titleFontSize":10}},"x2":{"field":"end"},"y":{"field":"mean","type":"quantitative","scale":{"domain":[0,1.5],"range":[96.3,29.6],"nice":false},"axis":{"values":[0,0.5,1,1.5],"format":".1f","labelOverlap":false,"title":"Fold Change","titleX":-25}},"y2":{"datum":0}}},
   {"mark":{"type":"rule","stroke":"#222","strokeWidth":1.3},"encoding":{"y2":{"field":"upper"}}},
   {"mark":{"type":"point","shape":"M-6.5 0L6.5 0","size":4,"stroke":"#222","strokeWidth":1.3,"opacity":1},"encoding":{"y":{"field":"upper","type":"quantitative","scale":{"domain":[0,1.5],"range":[96.3,29.6],"nice":false}}}},
   {"transform":[{"filter":"datum.group!='SCVS/GFP'"}],"mark":{"type":"point","shape":"M-11 -3L11 -3M-11 -8L11 -8M-11 -12L11 -12M-11 -17L11 -17M-11 -22L11 -22M-11 -26L11 -26M-11 -31L11 -31M-11 -36L11 -36M-11 -40L11 -40","size":4,"stroke":"#1a1020","strokeWidth":2,"opacity":1},"encoding":{"y":{"datum":0,"type":"quantitative","scale":{"domain":[0,1.5],"range":[96.3,29.6],"nice":false}}}}
   ]},
  {"width":480.7,"height":100.4,
   "encoding":{"x":{"field":"x","type":"quantitative","scale":{"domain":[0,480.7],"range":[0,480.7]},"axis":null},"y":{"field":"y","type":"quantitative","scale":{"domain":[0,220],"range":[2.7,222.7]},"axis":null}},
   "layer":[
   {"data":{"values":[
    {"part":"Cell signaling side","x":10,"y":62},{"part":"Cell signaling top","x":10,"y":62},
    {"part":"Cell function side","x":10,"y":62},{"part":"Cell function top","x":10,"y":62},
    {"part":"Cell death side","x":10,"y":62},{"part":"Cell death top","x":10,"y":62},
    {"part":"Post translational rim","x":10,"y":62},{"part":"Post translational band","x":10,"y":62},{"part":"Post translational top","x":10,"y":62},
    {"part":"Nervous side","x":10,"y":62},{"part":"Nervous top","x":10,"y":62},
    {"part":"Endocrine side","x":10,"y":62},{"part":"Endocrine top","x":10,"y":62},
    {"part":"Embryonic side","x":10,"y":62},{"part":"Embryonic top","x":10,"y":62},
    {"part":"Lipid rim","x":10,"y":62},{"part":"Lipid band","x":10,"y":62},{"part":"Lipid top","x":10,"y":62},
    {"part":"Cell cycle side","x":10,"y":62},{"part":"Cell cycle top","x":10,"y":62},
    {"part":"Visual side","x":10,"y":62},{"part":"Visual top","x":10,"y":62}]},
    "mark":{"type":"point","filled":true,"size":0.4444,"opacity":1,"strokeWidth":0},
    "encoding":{"shape":{"field":"part","type":"nominal","legend":null,"scale":{
     "domain":["Cell signaling side","Cell signaling top","Cell function side","Cell function top","Cell death side","Cell death top","Post translational rim","Post translational band","Post translational top","Nervous side","Nervous top","Endocrine side","Endocrine top","Embryonic side","Embryonic top","Lipid rim","Lipid band","Lipid top","Cell cycle side","Cell cycle top","Visual side","Visual top"],
     "range":["M133 42L205 95L205 128L133 52Z","M205 30L170 32L133 42L205 97Z","M58 72L195 100L195 110L60 82Z","M195 97L58 72L75 62L100 52L130 45Z","M20 117L185 108L185 116L20 128Z","M185 106L20 115L22 100L35 82Z","M20 128L30 150L50 165L50 205L30 190L20 172Z","M50 172L185 122L185 130L50 185Z","M185 118L20 128L28 148L50 168Z","M232 108L340 55L340 72L232 128Z","M230 30L280 33L320 42L340 55L232 108Z","M252 108L405 108L405 118L252 122Z","M252 106L358 62L385 75L403 95L405 108Z","M250 125L385 172L408 130L408 150L395 175L380 192L250 135Z","M250 120L408 120L408 140L395 165L385 172Z","M62 172L75 187L100 200L135 210L135 245L100 235L75 225L62 212Z","M135 210L190 132L192 155L135 245Z","M190 130L62 172L75 187L100 200L135 210Z","M163 215L200 220L240 219L268 212L268 240L235 249L195 250L163 245Z","M210 135L163 215L200 220L240 219L268 212Z","M240 135L300 213L372 183L372 200L345 225L295 243L240 155Z","M245 130L372 183L345 202L300 213Z"]}},
     "fill":{"field":"part","type":"nominal","legend":null,"scale":{
     "domain":["Cell signaling side","Cell signaling top","Cell function side","Cell function top","Cell death side","Cell death top","Post translational rim","Post translational band","Post translational top","Nervous side","Nervous top","Endocrine side","Endocrine top","Embryonic side","Embryonic top","Lipid rim","Lipid band","Lipid top","Cell cycle side","Cell cycle top","Visual side","Visual top"],
     "range":["#7d5636","#fac090","#6f6f6f","#fce4d0","#4d5b6e","#b8d4ee","#b5b5b5","#7f7f7f","#d9d9d9","#4a0f14","#7a1a22","#3c2558","#66407f","#03203f","#04305e","#bdbdbd","#c8c8c8","#f0f0f0","#a07e68","#fcd0ac","#264b72","#6fa6dd"]}}}},
   {"data":{"values":[{"part":"Nervous top","x":160.5,"y":66},{"part":"Endocrine top","x":160.5,"y":87},{"part":"Embryonic top","x":160.5,"y":110},{"part":"Visual top","x":160.5,"y":124},{"part":"Cell cycle top","x":160.5,"y":145},{"part":"Lipid top","x":160.5,"y":158},{"part":"Post translational top","x":160.5,"y":174},{"part":"Cell death top","x":160.5,"y":187},{"part":"Cell function top","x":160.5,"y":200},{"part":"Cell signaling top","x":160.5,"y":213}]},
    "mark":{"type":"point","filled":true,"shape":"M-4.5 -2.2H4.5V2.2H-4.5Z","size":4,"opacity":1,"strokeWidth":0},
    "encoding":{"fill":{"field":"part","type":"nominal","legend":null,"scale":{
     "domain":["Cell signaling side","Cell signaling top","Cell function side","Cell function top","Cell death side","Cell death top","Post translational rim","Post translational band","Post translational top","Nervous side","Nervous top","Endocrine side","Endocrine top","Embryonic side","Embryonic top","Lipid rim","Lipid band","Lipid top","Cell cycle side","Cell cycle top","Visual side","Visual top"],
     "range":["#7d5636","#fac090","#6f6f6f","#fce4d0","#4d5b6e","#b8d4ee","#b5b5b5","#7f7f7f","#d9d9d9","#4a0f14","#7a1a22","#3c2558","#66407f","#03203f","#04305e","#bdbdbd","#c8c8c8","#f0f0f0","#a07e68","#fcd0ac","#264b72","#6fa6dd"]}}}},
   {"data":{"values":[{"x":166,"y":65,"label":"Nervous system"},{"x":166,"y":76,"label":"development and function"},{"x":166,"y":87,"label":"Endocrine system"},{"x":166,"y":98,"label":"development"},{"x":168,"y":110,"label":"Embryonic development-tissue"},{"x":166,"y":124,"label":"Visual system"},{"x":169,"y":136,"label":"and development"},{"x":167,"y":145,"label":"Cell cycle"},{"x":166,"y":158,"label":"Lipid metabolism"},{"x":166,"y":174,"label":"Post translational modification"},{"x":166,"y":187,"label":"Cell death and survival"},{"x":166,"y":200,"label":"Cell function and maintance"},{"x":166,"y":213,"label":"Cell signaling"}]},
    "mark":{"type":"text","align":"left","fontSize":10,"color":"#444"},"encoding":{"text":{"field":"label"}}},
   {"data":{"values":[{"x":16,"y":32,"label":"i"}]},"mark":{"type":"text","fontSize":20,"fontWeight":"bold","color":"#111"},"encoding":{"text":{"field":"label"}}}
   ]},
  {"width":116,"height":100.4,
   "data":{"values":[{"group":"Control","start":0.25,"end":1.25,"center":0.75,"mean":1,"upper":1.13},{"group":"SCVS","start":1.25,"end":2.25,"center":1.75,"mean":0.58,"upper":0.67,"star":1.12}]},
   "encoding":{"x":{"field":"center","type":"quantitative","scale":{"domain":[0,3],"range":[0,64.3],"nice":false}},"y":{"field":"mean","type":"quantitative","scale":{"domain":[0,1.5],"range":[100.4,33.7],"nice":false}}},
   "layer":[
   {"mark":{"type":"rect","fill":"#ee8ebf","stroke":"#222","strokeWidth":1.2},"encoding":{"x":{"field":"start","type":"quantitative","scale":{"domain":[0,3],"range":[0,64.3],"nice":false},"axis":{"values":[0.75,1.75],"labels":false,"title":"cFos","titleFontStyle":"italic","titleX":28,"titleY":8.5,"titleBaseline":"middle","tickSize":3,"titleFontSize":10}},"x2":{"field":"end"},"y":{"field":"mean","type":"quantitative","scale":{"domain":[0,1.5],"range":[100.4,33.7],"nice":false},"axis":{"values":[0,0.5,1,1.5],"format":".1f","labelOverlap":false,"title":"Fold Change","titleX":-29}},"y2":{"datum":0}}},
   {"mark":{"type":"rule","stroke":"#222","strokeWidth":1.3},"encoding":{"y2":{"field":"upper"}}},
   {"mark":{"type":"point","shape":"M-6.5 0L6.5 0","size":4,"stroke":"#222","strokeWidth":1.3,"opacity":1},"encoding":{"y":{"field":"upper","type":"quantitative","scale":{"domain":[0,1.5],"range":[100.4,33.7],"nice":false}}}},
   {"transform":[{"filter":"datum.group=='SCVS'"}],"mark":{"type":"point","shape":"M8 0L11 -3M2 0L11 -9M-4 0L11 -15M-10 0L11 -21M-11 -5L10 -26M-11 -11L4 -26M-11 -17L-2 -26M-11 -23L-8 -26","size":4,"stroke":"#2a1a2a","strokeWidth":1.5,"opacity":1},"encoding":{"y":{"datum":0,"type":"quantitative","scale":{"domain":[0,1.5],"range":[100.4,33.7],"nice":false}}}},
   {"transform":[{"filter":"datum.star"}],"mark":{"type":"text","text":"*","fontSize":18,"fontWeight":"bold","color":"#222"},"encoding":{"y":{"field":"star","type":"quantitative","scale":{"domain":[0,1.5],"range":[100.4,33.7],"nice":false}}}}
   ]},
  {"width":95.3,"height":100.4,
   "data":{"values":[{"group":"SCVS/GFP","start":0.26,"end":1.26,"center":0.76,"mean":1,"upper":1.23},{"group":"SCVS/ Dnmt3a KO","start":1.26,"end":2.26,"center":1.76,"mean":1.18,"upper":1.29}]},
   "encoding":{"x":{"field":"center","type":"quantitative","scale":{"domain":[0,3],"range":[0,64],"nice":false}},"y":{"field":"mean","type":"quantitative","scale":{"domain":[0,1.5],"range":[100.4,33.7],"nice":false}}},
   "layer":[
   {"mark":{"type":"rect","fill":"#ee8ebf","stroke":"#222","strokeWidth":1.2},"encoding":{"x":{"field":"start","type":"quantitative","scale":{"domain":[0,3],"range":[0,64],"nice":false},"axis":{"values":[0.76,1.76],"labels":false,"title":"cFos","titleFontStyle":"italic","titleX":30.5,"titleY":8.5,"titleBaseline":"middle","tickSize":3,"titleFontSize":10}},"x2":{"field":"end"},"y":{"field":"mean","type":"quantitative","scale":{"domain":[0,1.5],"range":[100.4,33.7],"nice":false},"axis":{"values":[0,0.5,1,1.5],"format":".1f","labelOverlap":false,"title":"Fold Change","titleX":-25}},"y2":{"datum":0}}},
   {"mark":{"type":"rule","stroke":"#222","strokeWidth":1.3},"encoding":{"y2":{"field":"upper"}}},
   {"mark":{"type":"point","shape":"M-6.5 0L6.5 0","size":4,"stroke":"#222","strokeWidth":1.3,"opacity":1},"encoding":{"y":{"field":"upper","type":"quantitative","scale":{"domain":[0,1.5],"range":[100.4,33.7],"nice":false}}}},
   {"transform":[{"filter":"datum.group!='SCVS/GFP'"}],"mark":{"type":"point","shape":"M-11 -3L11 -3M-11 -8L11 -8M-11 -12L11 -12M-11 -17L11 -17M-11 -22L11 -22M-11 -26L11 -26M-11 -31L11 -31M-11 -36L11 -36M-11 -40L11 -40M-11 -45L11 -45M-11 -50L11 -50","size":4,"stroke":"#1a1020","strokeWidth":2,"opacity":1},"encoding":{"y":{"datum":0,"type":"quantitative","scale":{"domain":[0,1.5],"range":[100.4,33.7],"nice":false}}}}
   ]},
{"width":480.7,"height":0,"data":{"name":"blank"},"mark":"rect","encoding":{}},
  {"width":116,"height":97.6,
   "data":{"values":[{"group":"Control","start":0.25,"end":1.25,"center":0.75,"mean":1,"upper":1.14},{"group":"SCVS","start":1.25,"end":2.25,"center":1.75,"mean":0.65,"upper":0.74,"star":1.09}]},
   "encoding":{"x":{"field":"center","type":"quantitative","scale":{"domain":[0,3],"range":[0,64.3],"nice":false}},"y":{"field":"mean","type":"quantitative","scale":{"domain":[0,1.5],"range":[97.6,31],"nice":false}}},
   "layer":[
   {"mark":{"type":"rect","fill":"#ee8ebf","stroke":"#222","strokeWidth":1.2},"encoding":{"x":{"field":"start","type":"quantitative","scale":{"domain":[0,3],"range":[0,64.3],"nice":false},"axis":{"values":[0.75,1.75],"labels":false,"title":"Vegf","titleFontStyle":"italic","titleX":24,"titleY":11.5,"titleBaseline":"middle","tickSize":3,"titleFontSize":10}},"x2":{"field":"end"},"y":{"field":"mean","type":"quantitative","scale":{"domain":[0,1.5],"range":[97.6,31],"nice":false},"axis":{"values":[0,0.5,1,1.5],"format":".1f","labelOverlap":false,"title":"Fold Change","titleX":-29}},"y2":{"datum":0}}},
   {"mark":{"type":"rule","stroke":"#222","strokeWidth":1.3},"encoding":{"y2":{"field":"upper"}}},
   {"mark":{"type":"point","shape":"M-6.5 0L6.5 0","size":4,"stroke":"#222","strokeWidth":1.3,"opacity":1},"encoding":{"y":{"field":"upper","type":"quantitative","scale":{"domain":[0,1.5],"range":[97.6,31],"nice":false}}}},
   {"transform":[{"filter":"datum.group=='SCVS'"}],"mark":{"type":"point","shape":"M8 0L11 -3M2 0L11 -9M-4 0L11 -15M-10 0L11 -21M-11 -5L11 -27M-11 -11L7 -29M-11 -17L1 -29M-11 -23L-5 -29","size":4,"stroke":"#2a1a2a","strokeWidth":1.5,"opacity":1},"encoding":{"y":{"datum":0,"type":"quantitative","scale":{"domain":[0,1.5],"range":[97.6,31],"nice":false}}}},
   {"transform":[{"filter":"datum.star"}],"mark":{"type":"text","text":"*","fontSize":18,"fontWeight":"bold","color":"#222"},"encoding":{"y":{"field":"star","type":"quantitative","scale":{"domain":[0,1.5],"range":[97.6,31],"nice":false}}}}
   ]},
  {"width":95.3,"height":97.6,
   "data":{"values":[{"group":"SCVS/GFP","start":0.26,"end":1.26,"center":0.76,"mean":1,"upper":1.18},{"group":"SCVS/ Dnmt3a KO","start":1.26,"end":2.26,"center":1.76,"mean":0.95,"upper":1}]},
   "encoding":{"x":{"field":"center","type":"quantitative","scale":{"domain":[0,3],"range":[0,64],"nice":false}},"y":{"field":"mean","type":"quantitative","scale":{"domain":[0,1.5],"range":[97.6,31],"nice":false}}},
   "layer":[
   {"mark":{"type":"rect","fill":"#ee8ebf","stroke":"#222","strokeWidth":1.2},"encoding":{"x":{"field":"start","type":"quantitative","scale":{"domain":[0,3],"range":[0,64],"nice":false},"axis":{"values":[0.76,1.76],"labels":false,"title":"Vegf","titleFontStyle":"italic","titleX":24.5,"titleY":11.5,"titleBaseline":"middle","tickSize":3,"titleFontSize":10}},"x2":{"field":"end"},"y":{"field":"mean","type":"quantitative","scale":{"domain":[0,1.5],"range":[97.6,31],"nice":false},"axis":{"values":[0,0.5,1,1.5],"format":".1f","labelOverlap":false,"title":"Fold Change","titleX":-25}},"y2":{"datum":0}}},
   {"mark":{"type":"rule","stroke":"#222","strokeWidth":1.3},"encoding":{"y2":{"field":"upper"}}},
   {"mark":{"type":"point","shape":"M-6.5 0L6.5 0","size":4,"stroke":"#222","strokeWidth":1.3,"opacity":1},"encoding":{"y":{"field":"upper","type":"quantitative","scale":{"domain":[0,1.5],"range":[97.6,31],"nice":false}}}},
   {"transform":[{"filter":"datum.group!='SCVS/GFP'"}],"mark":{"type":"point","shape":"M-11 -3L11 -3M-11 -8L11 -8M-11 -12L11 -12M-11 -17L11 -17M-11 -22L11 -22M-11 -26L11 -26M-11 -31L11 -31M-11 -36L11 -36M-11 -40L11 -40","size":4,"stroke":"#1a1020","strokeWidth":2,"opacity":1},"encoding":{"y":{"datum":0,"type":"quantitative","scale":{"domain":[0,1.5],"range":[97.6,31],"nice":false}}}}
   ]}
]}
